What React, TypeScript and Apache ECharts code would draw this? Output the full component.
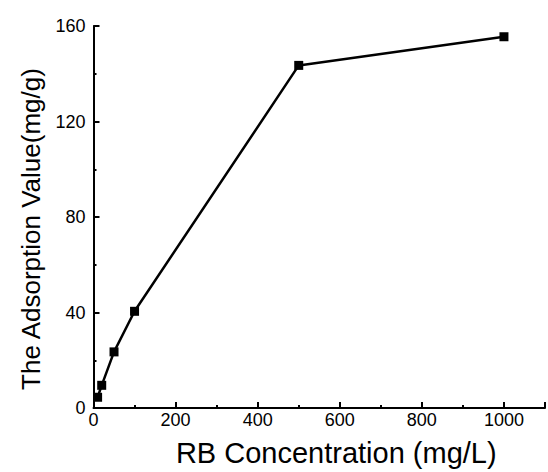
import React, { useEffect, useRef } from "react";
import * as echarts from "echarts";

const concentrations = [10, 20, 50, 100, 500, 1000];
const adsorption = [4.5, 9.5, 23.5, 40.5, 143.5, 155.5];
const xTitle = "RB Concentration (mg/L)";
const yTitle = "The Adsorption Value(mg/g)";

export default function App() {
  const ref = useRef<HTMLDivElement>(null);
  useEffect(() => {
    if (!ref.current) return;
    const chart = echarts.init(ref.current, null, { renderer: "svg" });
    const font = "'Liberation Sans', Arial, sans-serif";
    chart.setOption({
      animation: false,
      backgroundColor: "#ffffff",
      grid: { left: 93.5, right: 0, top: 26, bottom: 62 },
      xAxis: {
        type: "value",
        min: 0,
        max: 1100,
        interval: 200,
        name: xTitle,
        nameLocation: "middle",
        nameGap: 30,
        nameTextStyle: { fontSize: 29, color: "#000", fontFamily: font, padding: [0, 0, 0, 34] },
        axisLine: { show: true, lineStyle: { color: "#000", width: 2 } },
        axisTick: { show: true, inside: true, length: 6, lineStyle: { color: "#000", width: 2 } },
        minorTick: { show: true, splitNumber: 2, length: 3, lineStyle: { color: "#000", width: 2 } },
        axisLabel: {
          fontSize: 18,
          color: "#000",
          fontFamily: font,
          margin: 3,
          formatter: (v: number) => (v > 1000 ? "" : String(v)),
        },
        splitLine: { show: false },
      },
      yAxis: {
        type: "value",
        min: 0,
        max: 160,
        interval: 40,
        name: yTitle,
        nameLocation: "middle",
        nameGap: 50,
        nameTextStyle: { fontSize: 26, color: "#000", fontFamily: font, padding: [0, 24, 0, 0] },
        axisLine: { show: true, lineStyle: { color: "#000", width: 2 } },
        axisTick: { show: true, inside: true, length: 6, lineStyle: { color: "#000", width: 2 } },
        minorTick: { show: true, splitNumber: 2, length: 3, lineStyle: { color: "#000", width: 2 } },
        axisLabel: { fontSize: 18, color: "#000", fontFamily: font, margin: 8 },
        splitLine: { show: false },
      },
      series: [
        {
          type: "line",
          data: concentrations.map((c, i) => [c, adsorption[i]]),
          symbol: "rect",
          symbolSize: 9,
          lineStyle: { color: "#000", width: 2.5 },
          itemStyle: { color: "#000" },
          clip: false,
        },
      ],
    });
    return () => chart.dispose();
  }, []);
  return (
    <div
      ref={ref}
      style={{ position: "fixed", left: 0, top: 0, width: 548, height: 472 }}
    />
  );
}
